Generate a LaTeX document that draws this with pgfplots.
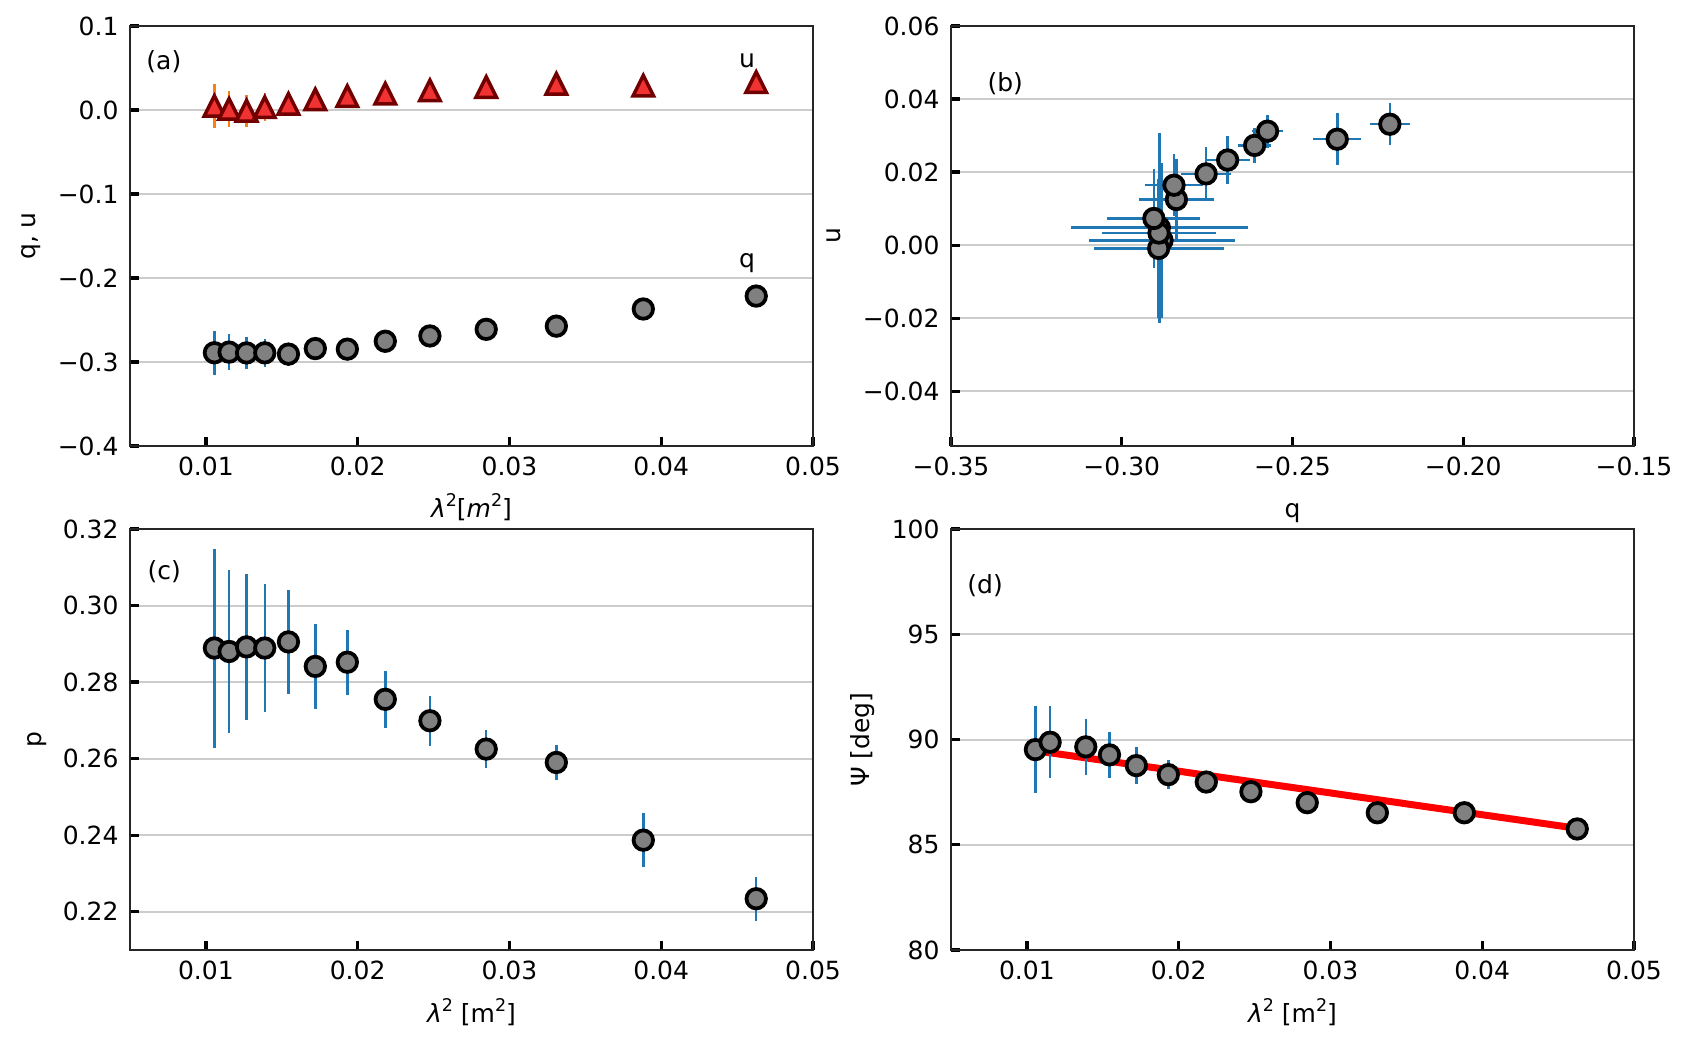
\documentclass[border=0pt]{standalone}
\usepackage{fontspec}
\setmainfont{DejaVu Sans}
\usepackage{pgfplots}
\pgfplotsset{compat=1.18}
\usepackage{pgfplotstable}

\definecolor{eb}{RGB}{31,119,180}
\definecolor{eo}{RGB}{255,127,14}
\definecolor{mfill}{RGB}{128,128,128}
\definecolor{tfill}{RGB}{240,50,50}
\definecolor{tedge}{RGB}{115,0,0}
\definecolor{gridc}{RGB}{204,204,204}
\definecolor{axc}{RGB}{38,38,38}

\pgfdeclareplotmark{mtri}{%
  \pgfpathmoveto{\pgfqpoint{0pt}{\pgfplotmarksize}}%
  \pgfpathlineto{\pgfqpoint{-\pgfplotmarksize}{-\pgfplotmarksize}}%
  \pgfpathlineto{\pgfqpoint{\pgfplotmarksize}{-\pgfplotmarksize}}%
  \pgfpathclose
  \pgfusepathqfillstroke}

\pgfplotstableread{
x q u p e
0.01056 -0.2890 0.0048 0.2889 0.0260
0.01153 -0.2882 0.0013 0.2880 0.0213
0.01268 -0.2892 -0.0009 0.2892 0.0190
0.01388 -0.2891 0.0033 0.2889 0.0168
0.01544 -0.2906 0.0073 0.2905 0.0136
0.01721 -0.2840 0.0125 0.2841 0.0110
0.01932 -0.2847 0.0164 0.2852 0.0085
0.02182 -0.2753 0.0195 0.2755 0.0074
0.02476 -0.2690 0.0233 0.2699 0.0065
0.02847 -0.2611 0.0273 0.2625 0.0049
0.03309 -0.2573 0.0312 0.2590 0.0045
0.03882 -0.2369 0.0290 0.2387 0.0071
0.04626 -0.2215 0.0331 0.2234 0.0058
}\datatab

\pgfplotstableread{
x psi e
0.01056 89.52 2.08
0.01153 89.87 1.70
0.01388 89.65 1.33
0.01544 89.27 1.10
0.01721 88.76 0.87
0.01932 88.33 0.70
0.02182 87.98 0.45
0.02476 87.52 0.40
0.02847 87.00 0.35
0.03309 86.52 0.30
0.03882 86.52 0.40
0.04626 85.75 0.35
}\psitab

\pgfplotsset{
  panel/.style={
    scale only axis,
    width=273.2pt,
    anchor=south west,
    axis line style={axc, line width=0.8pt},
    tick align=inside,
    tick pos=left,
    major tick length=3.6pt,
    tick style={black, line width=1.3pt},
    ymajorgrids,
    grid style={gridc, line width=0.8pt},
    scaled ticks=false,
    ticklabel style={font=\fontsize{10}{12}\selectfont},
    xticklabel style={anchor=north, inner sep=0pt, yshift=-4pt},
    yticklabel style={anchor=east, inner sep=0pt, xshift=-4.4pt},
  },
  lamx/.style={
    xmin=0.005, xmax=0.05,
    xtick={0.01,0.02,0.03,0.04,0.05},
    xticklabels={0.01,0.02,0.03,0.04,0.05},
  },
  ebar/.style={
    draw=none, mark=none, forget plot,
    error bars/.cd, y dir=both, y explicit, error mark=none,
    error bar style={#1, line width=1pt, solid},
  },
  circ/.style={
    only marks, mark=*, mark size=3.9pt,
    mark options={fill=mfill, draw=black, line width=1.5pt, solid},
  },
}

\newcommand{\lab}{\fontsize{10}{12}\selectfont}
\newcommand{\supr}[1]{\raisebox{0.42em}{\fontsize{7}{7}\selectfont #1}}

\begin{document}
\begin{tikzpicture}
\path[use as bounding box] (0,0) rectangle (677.2pt,418pt);

% (a)
\begin{axis}[panel, lamx, at={(52pt,239.6pt)}, height=168pt,
  ymin=-0.4, ymax=0.1,
  ytick={-0.4,-0.3,-0.2,-0.1,0,0.1},
  yticklabels={−0.4,−0.3,−0.2,−0.1,0.0,0.1}]
\addplot[ebar=eb] table[x=x, y=q, y error=e] {\datatab};
\addplot[circ] table[x=x, y=q] {\datatab};
\addplot[ebar=eo] table[x=x, y=u, y error=e] {\datatab};
\addplot[only marks, mark=mtri, mark size=4.1pt,
  mark options={fill=tfill, draw=tedge, line width=1.4pt, solid}]
  table[x=x, y=u] {\datatab};
\node[anchor=base west, inner sep=0pt, font=\lab] at (axis description cs:0.0234,0.8976) {(a)};
\node[anchor=base west, inner sep=0pt, font=\lab] at (axis cs:0.0451,0.051) {u};
\node[anchor=base west, inner sep=0pt, font=\lab] at (axis cs:0.0451,-0.188) {q};
\end{axis}

% (b)
\begin{axis}[panel, at={(380.4pt,239.6pt)}, height=168pt,
  xmin=-0.35, xmax=-0.15,
  xtick={-0.35,-0.30,-0.25,-0.20,-0.15},
  xticklabels={−0.35,−0.30,−0.25,−0.20,−0.15},
  ymin=-0.055, ymax=0.06,
  ytick={-0.04,-0.02,0,0.02,0.04,0.06},
  yticklabels={−0.04,−0.02,0.00,0.02,0.04,0.06}]
\addplot[draw=none, mark=none, forget plot,
  error bars/.cd, x dir=both, x explicit, y dir=both, y explicit, error mark=none,
  error bar style={eb, line width=1pt, solid}]
  table[x=q, y=u, x error=e, y error=e] {\datatab};
\addplot[circ] table[x=q, y=u] {\datatab};
\node[anchor=base west, inner sep=0pt, font=\lab] at (axis description cs:0.0527,0.843) {(b)};
\end{axis}

% (c)
\begin{axis}[panel, lamx, at={(52pt,38pt)}, height=168.4pt,
  ymin=0.21, ymax=0.32,
  ytick={0.22,0.24,0.26,0.28,0.30,0.32},
  yticklabels={0.22,0.24,0.26,0.28,0.30,0.32}]
\addplot[ebar=eb] table[x=x, y=p, y error=e] {\datatab};
\addplot[circ] table[x=x, y=p] {\datatab};
\node[anchor=base west, inner sep=0pt, font=\lab] at (axis description cs:0.0249,0.879) {(c)};
\end{axis}

% (d)
\begin{axis}[panel, lamx, at={(380.4pt,38pt)}, height=168.4pt,
  ymin=80, ymax=100,
  ytick={80,85,90,95,100},
  yticklabels={80,85,90,95,100}]
\addplot[red, line width=2.8pt, forget plot] coordinates {(0.01056,89.47) (0.04626,85.78)};
\addplot[ebar=eb] table[x=x, y=psi, y error=e] {\psitab};
\addplot[circ] table[x=x, y=psi] {\psitab};
\node[anchor=base west, inner sep=0pt, font=\lab] at (axis description cs:0.0234,0.846) {(d)};
\end{axis}

% axis labels
\node[anchor=base, inner sep=0pt, font=\lab] at (188.6pt,211.0pt) {\textit{λ}\supr{2}[\textit{m}\supr{2}]};
\node[anchor=base, rotate=90, inner sep=0pt, font=\lab] at (14pt,323.6pt) {q, u};
\node[anchor=base, inner sep=0pt, font=\lab] at (517.0pt,211.0pt) {q};
\node[anchor=base, rotate=90, inner sep=0pt, font=\lab] at (336.0pt,323.6pt) {u};
\node[anchor=base, inner sep=0pt, font=\lab] at (188.6pt,9.2pt) {\textit{λ}\supr{2} [m\supr{2}]};
\node[anchor=base, rotate=90, inner sep=0pt, font=\lab] at (16.4pt,122.2pt) {p};
\node[anchor=base, inner sep=0pt, font=\lab] at (517.0pt,9.2pt) {\textit{λ}\supr{2} [m\supr{2}]};
\node[anchor=base, rotate=90, inner sep=0pt, font=\lab] at (347.6pt,122.2pt) {Ψ [deg]};
\end{tikzpicture}
\end{document}
